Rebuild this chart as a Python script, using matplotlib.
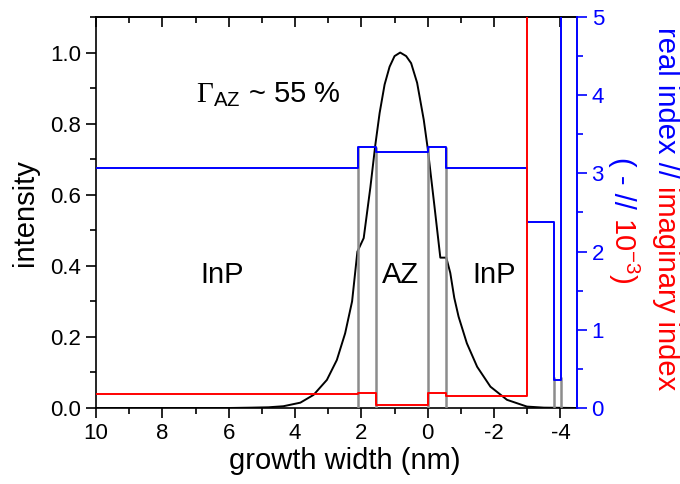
import matplotlib
matplotlib.use("Agg")
import matplotlib.pyplot as plt
from matplotlib.ticker import MultipleLocator

plt.rcParams["font.family"] = ["Liberation Sans", "DejaVu Sans"]
plt.rcParams["axes.unicode_minus"] = False
plt.rcParams["mathtext.fontset"] = "custom"
plt.rcParams["mathtext.rm"] = "Liberation Serif"
plt.rcParams["mathtext.sf"] = "Liberation Sans"
plt.rcParams["mathtext.it"] = "Liberation Sans:italic"

# mode intensity profile
pos_nm = [10, 6, 5.3, 4.8, 4.35, 3.84, 3.44, 3.04, 2.74, 2.49, 2.28, 2.12, 1.93,
          1.73, 1.58, 1.45, 1.3, 1.15, 1.0, 0.83, 0.65, 0.5, 0.32, 0.12, 0.0,
          -0.2, -0.38, -0.56, -0.68, -0.8, -0.93, -1.18, -1.49, -1.89, -2.39,
          -2.99, -3.5, -4.5]
intensity = [0, 0, 0.001, 0.002, 0.005, 0.015, 0.037, 0.079, 0.135, 0.21, 0.30,
             0.44, 0.478, 0.62, 0.74, 0.83, 0.91, 0.96, 0.99, 1.0, 0.99, 0.97,
             0.915, 0.811, 0.73, 0.57, 0.423, 0.423, 0.38, 0.31, 0.257, 0.182,
             0.116, 0.06, 0.023, 0.004, 0.001, 0]

# layer stack: real index (blue), imaginary index x1e-3 (red)
n_edges = [10, 2.1, 1.55, 0.0, -0.55, -3.0, -3.82, -4.03, -4.6]
n_real = [3.07, 3.34, 3.27, 3.34, 3.07, 2.38, 0.36, 8.0, 8.0]
k_edges = [10, 2.1, 1.55, 0.0, -0.55, -3.0, -4.6]
k_imag = [0.18, 0.19, 0.04, 0.19, 0.15, 30.0, 30.0]

# interface markers
iface_x = [2.1, 1.55, 0.0, -0.55, -3.82, -4.03]
iface_top = [3.34, 3.34, 3.34, 3.34, 0.4, 0.4]

W, H = 680, 484
fig = plt.figure(figsize=(W / 100, H / 100), dpi=100)
ax = fig.add_axes([96 / W, 1 - 408 / H, (577 - 96) / W, (408 - 17) / H])
ax2 = ax.twinx()

ax.plot(pos_nm, intensity, color="black", lw=1.4)
ax2.vlines(iface_x, 0, iface_top, color="#8c8c8c", lw=1.8)
ax2.step(n_edges, n_real, where="post", color="#0000ff", lw=1.4)
ax2.step(k_edges, k_imag, where="post", color="#ff0000", lw=1.4)

ax.set_xlim(10, -4.5)
ax.set_ylim(0, 1.1)
ax2.set_ylim(0, 5)

ax.xaxis.set_major_locator(MultipleLocator(2))
ax.xaxis.set_minor_locator(MultipleLocator(1))
ax.yaxis.set_major_locator(MultipleLocator(0.2))
ax.yaxis.set_minor_locator(MultipleLocator(0.1))
ax2.yaxis.set_major_locator(MultipleLocator(1))
ax2.yaxis.set_minor_locator(MultipleLocator(0.5))

ax.tick_params(which="both", direction="out", labelsize=16, width=1.2)
ax.tick_params(which="major", length=7)
ax.tick_params(which="minor", length=4)
ax.spines["right"].set_visible(False)
for s in ax.spines.values():
    s.set_linewidth(1.2)

top = ax.secondary_xaxis("top")
top.xaxis.set_major_locator(MultipleLocator(2))
top.xaxis.set_minor_locator(MultipleLocator(1))
top.tick_params(which="both", direction="in", labeltop=False, width=1.2)
top.tick_params(which="major", length=7)
top.tick_params(which="minor", length=4)
top.spines["top"].set_linewidth(1.2)

ax2.spines["right"].set_color("#0000ff")
ax2.spines["right"].set_linewidth(1.4)
for s in ["left", "top", "bottom"]:
    ax2.spines[s].set_visible(False)
ax2.tick_params(which="both", direction="out", colors="#0000ff",
                labelsize=16, width=1.2)
ax2.tick_params(which="major", length=7)
ax2.tick_params(which="minor", length=4)

ax.set_xlabel("growth width (nm)", fontsize=21, labelpad=4)
ax.xaxis.set_label_coords(0.518, -0.1)
ax.xaxis.label.set_va("top")
ax.set_ylabel("intensity", fontsize=21, labelpad=8)

ax.text(7.0, 0.859, r"$\Gamma_{\mathsf{AZ}}$ ~ 55 %", fontsize=21)
for xc, lab in zip([6.2, 0.81, -2.0], ["InP", "AZ", "InP"]):
    ax.text(xc, 0.353, lab, fontsize=21, ha="center")

# right label, two colours per line
fig.canvas.draw()
r = fig.canvas.get_renderer()


def vlabel(x_px, y_px, parts):
    y = 1 - y_px / H
    for txt, col in parts:
        t = fig.text(x_px / W, y, txt, color=col, fontsize=21, rotation=270,
                     rotation_mode="anchor", ha="left", va="baseline")
        bb = t.get_window_extent(r)
        y = bb.y0 / fig.dpi / fig.get_figheight()


vlabel(658, 27, [("real index // ", "#0000ff"), ("imaginary index", "#ff0000")])
vlabel(614, 157, [("( - // ", "#0000ff"), (r"10$^{\mathsf{-3}}$)", "#ff0000")])

fig.savefig("out.png", dpi=100)
